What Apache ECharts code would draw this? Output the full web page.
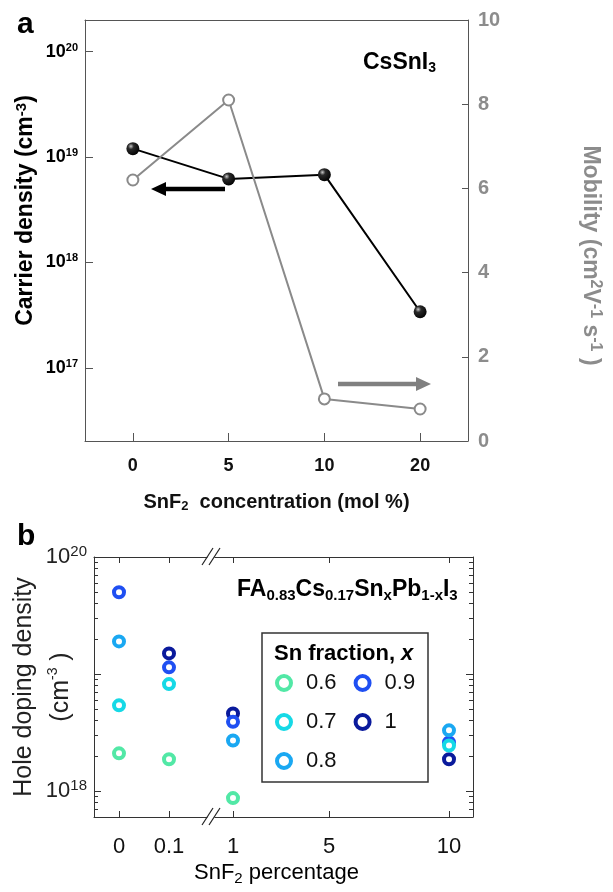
<!DOCTYPE html>
<html>
<head>
<meta charset="utf-8">
<script src="https://cdn.jsdelivr.net/npm/echarts@6/dist/echarts.min.js"></script>
<style>html,body{margin:0;padding:0;background:#fff}#c{width:613px;height:892px}</style>
</head>
<body>
<div id="c"></div>
<script>
// ---------- Panel a data ----------
const catsA = ['0', '5', '10', '20'];
const carrierDensity = [1.2e19, 6.2e18, 6.8e18, 3.4e17];
const mobility = [6.2, 8.1, 1.0, 0.76];
const carrierTicks = [1e17, 1e18, 1e19, 1e20];

// ---------- Panel b data ----------
const snf2Pct = [0, 0.1, 1, 10];
const snf2TicksLeft = [0, 0.1];
const snf2TicksRight = [1, 5, 10];
const fractions = ['0.6', '0.7', '0.8', '0.9', '1'];
const dens06 = [2.1e18, 1.87e18, 8.7e17, null];
const dens07 = [5.4e18, 8.2e18, null, 2.45e18];
const dens08 = [1.9e19, null, 2.7e18, 3.3e18];
const dens09 = [5.0e19, 1.14e19, 3.9e18, 2.6e18];
const dens10 = [null, 1.5e19, 4.6e18, 1.87e18];
const densB = { '0.6': dens06, '0.7': dens07, '0.8': dens08, '0.9': dens09, '1': dens10 };
const colorsB = { '0.6': '#52e8a6', '0.7': '#16d9e6', '0.8': '#1aa8f2', '0.9': '#1f4ff2', '1': '#0a1a9c' };

const FONT = 'Liberation Sans, Arial, sans-serif';
const chart = echarts.init(document.getElementById('c'), null, { renderer: 'canvas' });

function expLabel(v) { return Math.round(Math.log10(v)); }

const majorB = [1e18, 1e19, 1e20];
const labelB = [1e18, 1e20];
const minorB = [];
for (let n = 17; n <= 19; n++) for (let m = 2; m <= 9; m++) { const v = m * Math.pow(10, n); if (v >= 6e17 && v < 1e20) minorB.push(v); }

const axCol = '#555';
const bCol = '#333';
const grayTxt = '#8c8c8c';

const series = [];
// panel a
series.push({
  type: 'line', name: 'carrier', xAxisIndex: 0, yAxisIndex: 0, data: carrierDensity,
  symbol: 'circle', symbolSize: 13,
  lineStyle: { color: '#000', width: 2 },
  itemStyle: { color: { type: 'radial', x: 0.35, y: 0.32, r: 0.75, colorStops: [{ offset: 0, color: '#c8c8c8' }, { offset: 0.3, color: '#2a2a2a' }, { offset: 1, color: '#000' }] }, borderWidth: 0 },
  z: 3
});
series.push({
  type: 'line', name: 'mobility', xAxisIndex: 0, yAxisIndex: 1, data: mobility,
  symbol: 'circle', symbolSize: 11,
  lineStyle: { color: '#8a8a8a', width: 2 },
  itemStyle: { color: '#fff', borderColor: '#8a8a8a', borderWidth: 2 },
  z: 4
});
// panel b: draw '1' first so lighter ones are on top
fractions.slice().reverse().forEach(f => {
  const vals = densB[f];
  const left = [], right = [];
  snf2Pct.forEach((x, i) => {
    if (vals[i] == null) return;
    if (x <= 0.1) left.push([x, vals[i]]); else right.push([x, vals[i]]);
  });
  const common = {
    type: 'scatter', name: f, symbol: 'circle', symbolSize: 10,
    itemStyle: { color: '#fff', borderColor: colorsB[f], borderWidth: 4, opacity: 1 },
    emphasis: { disabled: true }
  };
  series.push(Object.assign({}, common, { xAxisIndex: 1, yAxisIndex: 2, data: left }));
  series.push(Object.assign({}, common, { xAxisIndex: 3, yAxisIndex: 4, data: right }));
});

const supRich = {
  b: { fontSize: 18, fontWeight: 'bold', fontFamily: FONT, color: '#000' },
  s: { fontSize: 11, fontWeight: 'bold', fontFamily: FONT, color: '#000', verticalAlign: 'top', padding: [0, 0, 8, 0] }
};

const option = {
  animation: false,
  backgroundColor: '#fff',
  textStyle: { fontFamily: FONT },
  grid: [
    { left: 85, top: 20, width: 383, height: 421, containLabel: false, outerBoundsMode: 'none' },
    { left: 94, top: 557, width: 117, height: 260, containLabel: false, outerBoundsMode: 'none' },
    { left: 211, top: 557, width: 262, height: 260, containLabel: false, outerBoundsMode: 'none' }
  ],
  legend: {
    data: fractions, left: 275, top: 672, orient: 'vertical', height: 125,
    itemWidth: 14, itemHeight: 14, itemGap: 17, padding: 0,
    itemStyle: { borderWidth: 4 },
    textStyle: { fontSize: 22, color: '#111', fontFamily: FONT, padding: [0, 6, 0, 10] },
    selectedMode: false
  },
  xAxis: [
    {
      gridIndex: 0, type: 'category', data: catsA, boundaryGap: true,
      axisLine: { show: true, lineStyle: { color: axCol, width: 1 } },
      axisTick: { show: true, inside: true, alignWithLabel: true, length: 8, lineStyle: { color: axCol, width: 1 } },
      axisLabel: { fontSize: 18, fontWeight: 'bold', color: '#111', margin: 16, fontFamily: FONT },
      name: 'SnF{sub|2}  concentration (mol %)', nameLocation: 'middle', nameGap: 50,
      nameTextStyle: { fontSize: 20, fontWeight: 'bold', color: '#111', fontFamily: FONT,
        rich: { sub: { fontSize: 13, fontWeight: 'bold', verticalAlign: 'bottom', padding: [9, 0, 0, 0], fontFamily: FONT, color: '#111' } } },
      splitLine: { show: false }
    },
    {
      gridIndex: 1, type: 'value', min: -0.05, max: 0.184, position: 'bottom',
      axisLine: { show: true, onZero: false, lineStyle: { color: bCol } },
      axisTick: { show: true, inside: true, length: 6, customValues: snf2TicksLeft, lineStyle: { color: bCol } },
      axisLabel: { customValues: snf2TicksLeft, fontSize: 22, color: '#111', margin: 19, fontFamily: FONT, formatter: v => String(v) },
      splitLine: { show: false }
    },
    {
      gridIndex: 1, type: 'value', min: -0.05, max: 0.184, position: 'top',
      axisLine: { show: true, onZero: false, lineStyle: { color: bCol } },
      axisTick: { show: true, inside: true, length: 6, customValues: snf2TicksLeft, lineStyle: { color: bCol } },
      axisLabel: { show: false }, splitLine: { show: false }
    },
    {
      gridIndex: 2, type: 'value', min: 0.0833, max: 11, position: 'bottom',
      axisLine: { show: true, onZero: false, lineStyle: { color: bCol } },
      axisTick: { show: true, inside: true, length: 6, customValues: snf2TicksRight, lineStyle: { color: bCol } },
      axisLabel: { customValues: snf2TicksRight, fontSize: 22, color: '#111', margin: 19, fontFamily: FONT, formatter: v => String(v) },
      splitLine: { show: false }
    },
    {
      gridIndex: 2, type: 'value', min: 0.0833, max: 11, position: 'top',
      axisLine: { show: true, onZero: false, lineStyle: { color: bCol } },
      axisTick: { show: true, inside: true, length: 6, customValues: snf2TicksRight, lineStyle: { color: bCol } },
      axisLabel: { show: false }, splitLine: { show: false }
    },
    {
      gridIndex: 0, type: 'category', data: catsA, boundaryGap: true, position: 'top',
      axisLine: { show: true, lineStyle: { color: axCol, width: 1 } },
      axisTick: { show: false }, axisLabel: { show: false }, splitLine: { show: false }
    }
  ],
  yAxis: [
    {
      gridIndex: 0, type: 'log', logBase: 10, min: 2.02e16, max: 1.995e20, position: 'left',
      axisLine: { show: true, onZero: false, lineStyle: { color: axCol } },
      axisTick: { show: true, inside: true, length: 8, lineStyle: { color: axCol, width: 1 }, customValues: carrierTicks },
      axisLabel: {
        customValues: carrierTicks, margin: 7,
        formatter: v => '{b|10}{s|' + expLabel(v) + '}', rich: supRich
      },
      splitLine: { show: false },
      name: 'Carrier density (cm{s|-3})', nameLocation: 'middle', nameGap: 47, nameRotate: 90,
      nameMoveOverlap: false,
      nameTextStyle: { fontSize: 23, fontWeight: 'bold', color: '#000', fontFamily: FONT, padding: [0, 0, 0, 40],
        rich: { s: { fontSize: 15, fontWeight: 'bold', verticalAlign: 'top', padding: [0, 0, 9, 0], color: '#000', fontFamily: FONT } } }
    },
    {
      gridIndex: 0, type: 'value', min: 0, max: 10, interval: 2, position: 'right',
      axisLine: { show: true, onZero: false, lineStyle: { color: axCol } },
      axisTick: { show: true, inside: true, length: 6, lineStyle: { color: axCol, width: 1 } },
      axisLabel: { fontSize: 20, fontWeight: 'bold', color: grayTxt, margin: 10, fontFamily: FONT },
      splitLine: { show: false },
      name: 'Mobility (cm{s|2}V{s|-1} s{s|-1} )', nameLocation: 'middle', nameGap: 110, nameRotate: -90,
      nameMoveOverlap: false,
      nameTextStyle: { fontSize: 23, fontWeight: 'bold', color: grayTxt, fontFamily: FONT, padding: [0, 0, 0, 50],
        rich: { s: { fontSize: 16, fontWeight: 'bold', verticalAlign: 'top', padding: [0, 0, 9, 0], color: grayTxt, fontFamily: FONT } } }
    },
    {
      gridIndex: 1, type: 'log', logBase: 10, min: 6e17, max: 1e20, position: 'left',
      axisLine: { show: true, onZero: false, lineStyle: { color: bCol } },
      axisTick: { show: true, inside: true, length: 7, customValues: majorB, lineStyle: { color: bCol } },
      axisLabel: {
        customValues: labelB, margin: 7,
        formatter: v => '{b|10}{s|' + expLabel(v) + '}',
        rich: {
          b: { fontSize: 22, color: '#222', fontFamily: FONT },
          s: { fontSize: 15, color: '#222', fontFamily: FONT, verticalAlign: 'top', padding: [0, 0, 10, 0] }
        }
      },
      splitLine: { show: false },
      name: '{t|Hole doping density}\n{t|(cm}{s|-3}{t| )}', nameLocation: 'middle', nameGap: 14, nameRotate: 90,
      nameMoveOverlap: false,
      nameTextStyle: { fontSize: 25, color: '#222', fontFamily: FONT, align: 'center',
        rich: {
          t: { fontSize: 25, color: '#222', fontFamily: FONT, lineHeight: 37, verticalAlign: 'middle' },
          s: { fontSize: 14, color: '#222', fontFamily: FONT, lineHeight: 37, verticalAlign: 'middle', padding: [0, 0, 16, 0] }
        } }
    },
    {
      gridIndex: 1, type: 'log', logBase: 10, min: 6e17, max: 1e20, position: 'left',
      axisLine: { show: false, onZero: false },
      axisTick: { show: true, inside: true, length: 4, customValues: minorB, lineStyle: { color: bCol } },
      axisLabel: { show: false }, splitLine: { show: false }
    },
    {
      gridIndex: 2, type: 'log', logBase: 10, min: 6e17, max: 1e20, position: 'right',
      axisLine: { show: true, onZero: false, lineStyle: { color: bCol } },
      axisTick: { show: true, inside: true, length: 7, customValues: majorB, lineStyle: { color: bCol } },
      axisLabel: { show: false }, splitLine: { show: false }
    },
    {
      gridIndex: 2, type: 'log', logBase: 10, min: 6e17, max: 1e20, position: 'right',
      axisLine: { show: false, onZero: false },
      axisTick: { show: true, inside: true, length: 4, customValues: minorB, lineStyle: { color: bCol } },
      axisLabel: { show: false }, splitLine: { show: false }
    }
  ],
  series: series,
  graphic: [
    { type: 'text', left: 17, top: 10, style: { text: 'a', font: 'bold 30px ' + FONT, fill: '#000' } },
    { type: 'text', left: 17, top: 522, style: { text: 'b', font: 'bold 30px ' + FONT, fill: '#000' } },
    { type: 'text', left: 363, top: 51, style: {
      text: '{m|CsSnI}{s|3}', rich: {
        m: { fontSize: 23, fontWeight: 'bold', fontFamily: FONT, color: '#000' },
        s: { fontSize: 14, fontWeight: 'bold', fontFamily: FONT, color: '#000', verticalAlign: 'bottom', padding: [11, 0, 0, 0] } } } },
    { type: 'text', left: 237, top: 578, style: {
      text: '{m|FA}{s|0.83}{m|Cs}{s|0.17}{m|Sn}{s|x}{m|Pb}{s|1-x}{m|I}{s|3}', rich: {
        m: { fontSize: 23, fontWeight: 'bold', fontFamily: FONT, color: '#000' },
        s: { fontSize: 15, fontWeight: 'bold', fontFamily: FONT, color: '#000', verticalAlign: 'bottom', padding: [12, 0, 0, 0] } } } },
    // legend box and title
    { type: 'rect', shape: { x: 262, y: 633, width: 166, height: 149 }, style: { fill: 'none', stroke: '#333', lineWidth: 1.5 }, z: 1 },
    { type: 'text', left: 274, top: 643, style: {
      text: '{m|Sn fraction, }{i|x}', rich: {
        m: { fontSize: 22, fontWeight: 'bold', fontFamily: FONT, color: '#000' },
        i: { fontSize: 22, fontWeight: 'bold', fontStyle: 'italic', fontFamily: FONT, color: '#000' } } } },
    // arrows
    { type: 'line', shape: { x1: 225, y1: 189, x2: 163, y2: 189 }, style: { stroke: '#000', lineWidth: 4.5 } },
    { type: 'polygon', shape: { points: [[151, 189], [166, 182], [166, 196]] }, style: { fill: '#000' } },
    { type: 'line', shape: { x1: 338, y1: 384, x2: 418, y2: 384 }, style: { stroke: '#808080', lineWidth: 4.5 } },
    { type: 'polygon', shape: { points: [[431, 384], [416, 377], [416, 391]] }, style: { fill: '#808080' } },
    // axis break marks
    { type: 'polygon', shape: { points: [[203, 565], [213, 548], [220, 548], [210, 565]] }, style: { fill: '#fff' }, z: 10 },
    { type: 'line', shape: { x1: 202, y1: 565, x2: 213, y2: 548 }, style: { stroke: '#222', lineWidth: 1.2 }, z: 11 },
    { type: 'line', shape: { x1: 209, y1: 565, x2: 220, y2: 548 }, style: { stroke: '#222', lineWidth: 1.2 }, z: 11 },
    { type: 'polygon', shape: { points: [[203, 825], [213, 808], [220, 808], [210, 825]] }, style: { fill: '#fff' }, z: 10 },
    { type: 'line', shape: { x1: 202, y1: 825, x2: 213, y2: 808 }, style: { stroke: '#222', lineWidth: 1.2 }, z: 11 },
    { type: 'line', shape: { x1: 209, y1: 825, x2: 220, y2: 808 }, style: { stroke: '#222', lineWidth: 1.2 }, z: 11 },
    // panel b x-axis title
    { type: 'text', left: 194, top: 862, style: {
      text: '{m|SnF}{s|2}{m| percentage}', rich: {
        m: { fontSize: 22, fontFamily: FONT, color: '#222' },
        s: { fontSize: 15, fontFamily: FONT, color: '#222', verticalAlign: 'bottom', padding: [12, 0, 0, 0] } } } }
  ]
};
chart.setOption(option);
</script>
</body>
</html>
